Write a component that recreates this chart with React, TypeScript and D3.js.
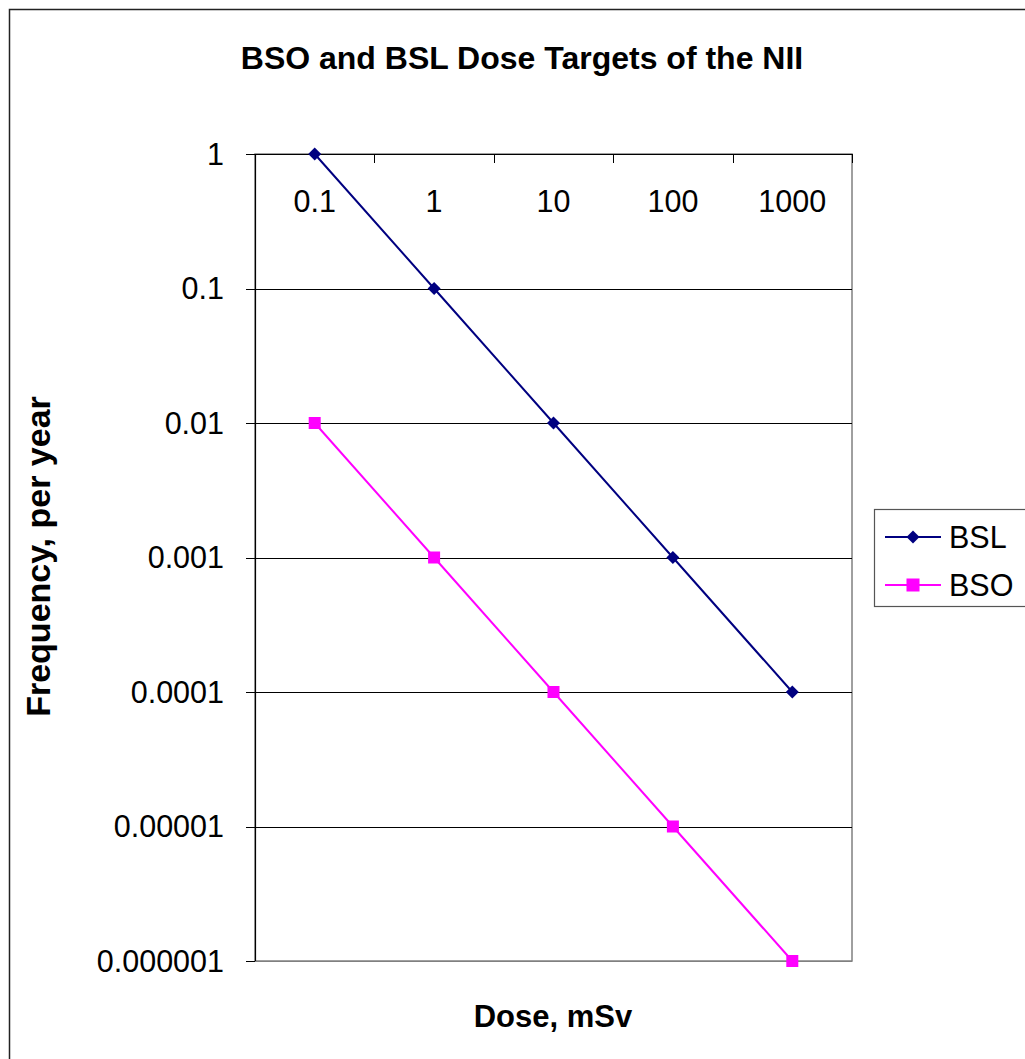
import React from "react";
import * as d3 from "d3";

const categories = ["0.1", "1", "10", "100", "1000"];
const bslValues = [1, 0.1, 0.01, 0.001, 0.0001];
const bsoValues = [0.01, 0.001, 0.0001, 0.00001, 0.000001];
const yTickValues = [1, 0.1, 0.01, 0.001, 0.0001, 0.00001, 0.000001];
const yTickLabels = ["1", "0.1", "0.01", "0.001", "0.0001", "0.00001", "0.000001"];
const seriesNames = ["BSL", "BSO"];

const FONT = "'Liberation Sans', Arial, sans-serif";
const W = 1025;
const H = 1059;
const plot = { left: 255, right: 852, top: 154, bottom: 961 };
const BSL_COLOR = "#000080";
const BSO_COLOR = "#FF00FF";

export default function App() {
  const x = d3.scaleBand<string>().domain(categories).range([plot.left, plot.right]);
  const y = d3.scaleLog().domain([1e-6, 1]).range([plot.bottom, plot.top]);
  const cx = (c: string) => (x(c) as number) + x.bandwidth() / 2;

  const line = d3
    .line<[string, number]>()
    .x((d) => cx(d[0]))
    .y((d) => y(d[1]));

  const bsl: [string, number][] = categories.map((c, i) => [c, bslValues[i]]);
  const bso: [string, number][] = categories.map((c, i) => [c, bsoValues[i]]);

  const boundaries = categories.map((c) => x(c) as number).concat([plot.right]);

  const diamond = (px: number, py: number, r: number) =>
    `M${px},${py - r}L${px + r},${py}L${px},${py + r}L${px - r},${py}Z`;

  const legendItems = [
    { name: seriesNames[0], color: BSL_COLOR, shape: "diamond", y: 537 },
    { name: seriesNames[1], color: BSO_COLOR, shape: "square", y: 585 },
  ];

  return (
    <svg
      width={W}
      height={H}
      style={{ position: "absolute", left: 0, top: 0, background: "#fff" }}
      fontFamily={FONT}
    >
      <rect x={0} y={0} width={W} height={H} fill="#fff" />
      {/* outer chart border */}
      <rect x={9.5} y={9.5} width={1100} height={1100} fill="none" stroke="#222" strokeWidth={1.5} />

      {/* title */}
      <text x={522} y={69} textAnchor="middle" fontSize={32} fontWeight="bold" fill="#000">
        BSO and BSL Dose Targets of the NII
      </text>

      {/* plot area border */}
      <rect
        x={plot.left}
        y={plot.top}
        width={plot.right - plot.left}
        height={plot.bottom - plot.top}
        fill="none"
        stroke="#808080"
        strokeWidth={1.5}
      />

      {/* gridlines */}
      {yTickValues.map((v) => (
        <line
          key={"g" + v}
          x1={plot.left}
          x2={plot.right}
          y1={Math.round(y(v)) + 0.5}
          y2={Math.round(y(v)) + 0.5}
          stroke={v === 1e-6 ? "#808080" : "#000"}
          strokeWidth={1}
        />
      ))}

      {/* y axis */}
      <line x1={plot.left + 0.5} x2={plot.left + 0.5} y1={plot.top} y2={plot.bottom} stroke="#000" strokeWidth={1.2} />
      {yTickValues.map((v, i) => (
        <g key={"yt" + v}>
          <line
            x1={plot.left - 9}
            x2={plot.left}
            y1={Math.round(y(v)) + 0.5}
            y2={Math.round(y(v)) + 0.5}
            stroke="#000"
          />
          <text
            x={224}
            y={y(v)}
            dy="0.36em"
            textAnchor="end"
            fontSize={30.5}
            fill="#000"
          >
            {yTickLabels[i]}
          </text>
        </g>
      ))}

      {/* x axis at top */}
      <line x1={plot.left} x2={plot.right} y1={plot.top + 0.5} y2={plot.top + 0.5} stroke="#000" strokeWidth={1.2} />
      {boundaries.map((b, i) => (
        <line key={"xt" + i} x1={Math.round(b) + 0.5} x2={Math.round(b) + 0.5} y1={plot.top} y2={plot.top + 9} stroke="#000" />
      ))}
      {categories.map((c) => (
        <text key={"xl" + c} x={cx(c)} y={212} textAnchor="middle" fontSize={30.5} fill="#000">
          {c}
        </text>
      ))}

      {/* series lines */}
      <path d={line(bsl) as string} fill="none" stroke={BSL_COLOR} strokeWidth={2} />
      <path d={line(bso) as string} fill="none" stroke={BSO_COLOR} strokeWidth={2} />
      {bsl.map((d) => (
        <path key={"m1" + d[0]} d={diamond(cx(d[0]), y(d[1]), 6.5)} fill={BSL_COLOR} />
      ))}
      {bso.map((d) => (
        <rect key={"m2" + d[0]} x={cx(d[0]) - 6} y={y(d[1]) - 6} width={12} height={12} fill={BSO_COLOR} />
      ))}

      {/* axis titles */}
      <text x={553} y={1027} textAnchor="middle" fontSize={31} fontWeight="bold" fill="#000">
        Dose, mSv
      </text>
      <text
        transform={`translate(50,556.5) rotate(-90)`}
        textAnchor="middle"
        fontSize={34}
        fontWeight="bold"
        fill="#000"
      >
        Frequency, per year
      </text>

      {/* legend */}
      <rect x={874.5} y={509.5} width={200} height={97} fill="#fff" stroke="#555" strokeWidth={1.2} />
      {legendItems.map((it) => (
        <g key={"lg" + it.name}>
          <line x1={885} x2={941} y1={it.y} y2={it.y} stroke={it.color} strokeWidth={2} />
          {it.shape === "diamond" ? (
            <path d={diamond(913, it.y, 6.5)} fill={it.color} />
          ) : (
            <rect x={913 - 6.5} y={it.y - 6.5} width={13} height={13} fill={it.color} />
          )}
          <text x={949} y={it.y} dy="0.36em" fontSize={30.5} fill="#000">
            {it.name}
          </text>
        </g>
      ))}
    </svg>
  );
}
